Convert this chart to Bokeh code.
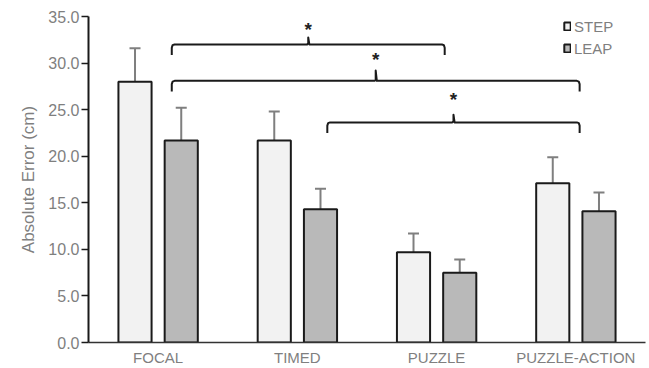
from bokeh.plotting import figure
from bokeh.models import (ColumnDataSource, Range1d, FixedTicker, NumeralTickFormatter,
                          Whisker, TeeHead, Legend, LegendItem)
from bokeh.core.properties import value
from bokeh.transform import dodge
from bokeh.embed import file_html
from bokeh.resources import INLINE

# ---------------- data ----------------
categories = ["FOCAL", "TIMED", "PUZZLE", "PUZZLE-ACTION"]
step_mean = [28.0, 21.7, 9.7, 17.1]
step_lo = [24.2, 19.3, 8.1, 15.1]
step_hi = [31.6, 24.8, 11.7, 19.9]
leap_mean = [21.7, 14.3, 7.5, 14.1]
leap_lo = [17.9, 11.9, 6.2, 12.1]
leap_hi = [25.2, 16.5, 8.9, 16.1]
y_ticks = [0, 5, 10, 15, 20, 25, 30, 35]

# significance brackets: start x, end x, line level, bump top, star level
br_x0 = [0.598, 0.598, 1.715]
br_x1 = [2.558, 3.527, 3.527]
br_line = [32.0, 28.09, 23.63]
br_bump = [32.75, 29.19, 24.45]
br_star = [33.75, 30.5, 26.16]

# ---------------- style ----------------
FONT = "Liberation Sans"
GREY_TXT = "#7f7f7f"
EDGE = "#1a1a1a"

cat_x = [i + 0.5 for i in range(len(categories))]
src = ColumnDataSource(dict(x=cat_x, step=step_mean, step_lo=step_lo, step_hi=step_hi,
                            leap=leap_mean, leap_lo=leap_lo, leap_hi=leap_hi))

p = figure(width=649, height=368, output_backend="svg", toolbar_location=None,
           x_range=Range1d(0, 4.0), y_range=Range1d(0, 35),
           min_border_left=88, min_border_right=4, min_border_top=16, min_border_bottom=25)
p.outline_line_color = None
p.xgrid.visible = False
p.ygrid.visible = False
p.background_fill_color = "white"

OFF = 0.166
W = 0.238
r_step = p.vbar(x=dodge("x", -OFF), top="step", width=W, source=src,
                fill_color="#f2f2f2", line_color=EDGE, line_width=2)
r_leap = p.vbar(x=dodge("x", OFF), top="leap", width=W, source=src,
                fill_color="#b9b9b9", line_color=EDGE, line_width=2)

for lo, hi, off in (("step_lo", "step_hi", -OFF), ("leap_lo", "leap_hi", OFF)):
    wk = Whisker(source=src, base=dodge("x", off), lower=lo, upper=hi,
                 line_color="#7f7f7f", line_width=2,
                 upper_head=TeeHead(size=11, line_color="#7f7f7f", line_width=2),
                 lower_head=TeeHead(size=11, line_color="#7f7f7f", line_width=2))
    p.add_layout(wk)

# brackets
HOOK = 1.13
for x0, x1, yl, yb, ys in zip(br_x0, br_x1, br_line, br_bump, br_star):
    xm = (x0 + x1) / 2
    xs = [x0, x0, x0 + 0.006, x0 + 0.02, xm - 0.008, xm, xm, xm + 0.008,
          x1 - 0.02, x1 - 0.006, x1, x1]
    ys_ = [yl - HOOK, yl - 0.35, yl - 0.08, yl, yl, yl + 0.12, yb, yl,
           yl, yl - 0.08, yl - 0.35, yl - HOOK]
    p.line(xs, ys_, line_color=EDGE, line_width=2, line_join="round")
    p.text(x=[xm], y=[ys], text=["*"], text_align="center", text_baseline="middle",
           text_font=value(FONT), text_font_size="19px", text_font_style="bold",
           text_color="#222222", y_offset=1)

# axes
xa = p.xaxis[0]
xa.ticker = FixedTicker(ticks=cat_x)
xa.major_label_overrides = {c: lab for c, lab in zip(cat_x, categories)}
xa.major_tick_line_color = None
xa.minor_tick_line_color = None
xa.axis_line_color = "#333333"
xa.axis_line_width = 1.5
xa.major_label_text_font = FONT
xa.major_label_text_font_size = "15px"
xa.major_label_text_color = GREY_TXT
xa.major_label_standoff = 0

ya = p.yaxis[0]
ya.ticker = FixedTicker(ticks=y_ticks)
ya.formatter = NumeralTickFormatter(format="0.0")
ya.axis_line_color = EDGE
ya.axis_line_width = 2
ya.major_tick_line_color = EDGE
ya.major_tick_line_width = 1.5
ya.major_tick_out = 7
ya.major_tick_in = 0
ya.minor_tick_line_color = None
ya.major_label_text_font = FONT
ya.major_label_text_font_size = "16px"
ya.major_label_text_color = GREY_TXT
ya.major_label_standoff = 2
ya.axis_label = "Absolute Error (cm)"
ya.axis_label_text_font = FONT
ya.axis_label_text_font_size = "17px"
ya.axis_label_text_font_style = "normal"
ya.axis_label_text_color = GREY_TXT
ya.axis_label_standoff = 7

legend = Legend(items=[LegendItem(label="STEP", renderers=[r_step]),
                       LegendItem(label="LEAP", renderers=[r_leap])],
                location=(475, 284), orientation="vertical",
                glyph_width=8, glyph_height=10, label_height=20, label_width=45,
                spacing=2, padding=0, margin=0, label_standoff=3,
                label_text_font=FONT, label_text_font_size="15px",
                label_text_color=GREY_TXT,
                border_line_color=None, background_fill_alpha=0)
p.add_layout(legend, "center")

open("out.html", "w").write(file_html(p, INLINE))
